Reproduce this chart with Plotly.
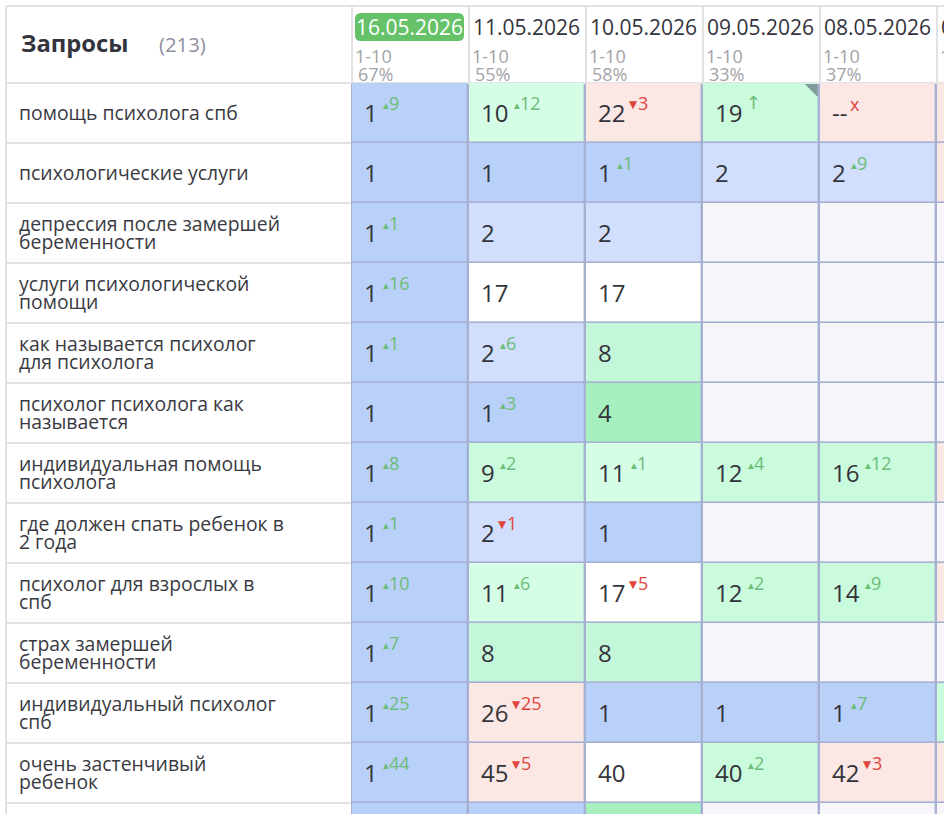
import plotly.graph_objects as go

W, H = 944, 814

title = "Запросы"
total = "(213)"
dates = ["16.05.2026", "11.05.2026", "10.05.2026", "09.05.2026", "08.05.2026", "07.05.2026"]
ranges = ["1-10", "1-10", "1-10", "1-10", "1-10", "1-10"]
shares = ["67%", "55%", "58%", "33%", "37%", ""]
queries = [
    ["помощь психолога спб"],
    ["психологические услуги"],
    ["депрессия после замершей", "беременности"],
    ["услуги психологической", "помощи"],
    ["как называется психолог", "для психолога"],
    ["психолог психолога как", "называется"],
    ["индивидуальная помощь", "психолога"],
    ["где должен спать ребенок в", "2 года"],
    ["психолог для взрослых в", "спб"],
    ["страх замершей", "беременности"],
    ["индивидуальный психолог", "спб"],
    ["очень застенчивый", "ребенок"],
]
positions = [
    ["1", "10", "22", "19", "--"],
    ["1", "1", "1", "2", "2"],
    ["1", "2", "2", "", ""],
    ["1", "17", "17", "", ""],
    ["1", "2", "8", "", ""],
    ["1", "1", "4", "", ""],
    ["1", "9", "11", "12", "16"],
    ["1", "2", "1", "", ""],
    ["1", "11", "17", "12", "14"],
    ["1", "8", "8", "", ""],
    ["1", "26", "1", "1", "1"],
    ["1", "45", "40", "40", "42"],
]
changes = [
    [9, 12, -3, "up", "x"],
    [0, 0, 1, 0, 9],
    [1, 0, 0, 0, 0],
    [16, 0, 0, 0, 0],
    [1, 6, 0, 0, 0],
    [0, 3, 0, 0, 0],
    [8, 2, 1, 4, 12],
    [1, -1, 0, 0, 0],
    [10, 6, -5, 2, 9],
    [7, 0, 0, 0, 0],
    [25, -25, 0, 0, 7],
    [44, -5, 0, 2, -3],
]
tone_colors = ["#ffffff", "#b9d0f9", "#d1dffc", "#a6f0bf", "#c4f7da", "#cafbdd", "#d6fde6", "#fbe7e3", "#f6f6fa"]
tones = [
    [1, 6, 7, 5, 7, 7],
    [1, 1, 1, 2, 2, 7],
    [1, 2, 2, 8, 8, 8],
    [1, 0, 0, 8, 8, 8],
    [1, 2, 4, 8, 8, 8],
    [1, 1, 3, 8, 8, 8],
    [1, 5, 6, 5, 5, 7],
    [1, 2, 1, 8, 8, 8],
    [1, 6, 0, 5, 5, 7],
    [1, 4, 4, 8, 8, 8],
    [1, 7, 1, 1, 1, 5],
    [1, 7, 0, 5, 7, 7],
    [1, 1, 3, 8, 8, 8],
]

TEXT, GREEN, RED, GREY, RULE = "#33333b", "#6cbd78", "#e0443e", "#a3a3a8", "#e2e2e2"
LEFT, TOP, COL, ROW = 351, 83, 117, 60

n = len(tone_colors)
scale = []
for i, c in enumerate(tone_colors):
    scale += [[i / n, c], [(i + 1) / n, c]]

fig = go.Figure(go.Heatmap(
    z=tones, colorscale=scale, zmin=0, zmax=n, showscale=False,
    xgap=2.4, ygap=1.6, hoverinfo="skip",
))


def note(text, size, color, **kw):
    kw.setdefault("xanchor", "left")
    kw.setdefault("yanchor", "middle")
    fig.add_annotation(text=text, font=dict(size=size, color=color, family=kw.pop("family", "Open Sans")),
                       showarrow=False, borderpad=0, borderwidth=0, **kw)


def head(text, px, py, size, color, **kw):
    note(text, size, color, xref="paper", yref="paper", x=px / W, y=1 - py / H, **kw)


head(f"<b>{title}</b>", 21, 43, 23.8, "#33333d")
head(total, 159, 44, 20.3, "#8f8fa0")

shapes = []
px_line = dict(type="line", xref="paper", yref="paper", line=dict(color=RULE, width=2), layer="below")
shapes.append(dict(px_line, x0=6 / W, x1=1, y0=1 - 6 / H, y1=1 - 6 / H))
shapes.append(dict(px_line, x0=6 / W, x1=6 / W, y0=0, y1=1 - 6 / H))
shapes.append(dict(px_line, x0=6 / W, x1=1, y0=1 - TOP / H, y1=1 - TOP / H))
for i in range(len(queries) + 1):
    yy = 1 - (TOP + ROW * (i + 1)) / H
    shapes.append(dict(px_line, x0=6 / W, x1=LEFT / W, y0=yy, y1=yy))
for j in range(len(dates)):
    xx = (LEFT + 1 + COL * j) / W
    shapes.append(dict(px_line, x0=xx, x1=xx, y0=1 - TOP / H, y1=1 - 6 / H))

# highlighted date badge
x0, x1, y0, y1 = 355 / W, 464 / W, 1 - 41 / H, 1 - 13 / H
rx, ry = 6 / W, 6 / H
shapes.append(dict(type="path", xref="paper", yref="paper", fillcolor="#66c268", line_width=0, layer="below",
                   path=f"M{x0 + rx},{y0} L{x1 - rx},{y0} Q{x1},{y0} {x1},{y0 + ry} L{x1},{y1 - ry} Q{x1},{y1} {x1 - rx},{y1} "
                        f"L{x0 + rx},{y1} Q{x0},{y1} {x0},{y1 - ry} L{x0},{y0 + ry} Q{x0},{y0} {x0 + rx},{y0} Z"))

for j, d in enumerate(dates):
    px = LEFT + COL * j
    head(d, px + 5, 27, 21, "#ffffff" if j == 0 else TEXT)
    head(ranges[j], px + 3.5, 56.5, 18, GREY)
    if shares[j]:
        head(shares[j], px + 7, 74, 18, GREY)

for i, lines in enumerate(queries):
    offs = [0] if len(lines) == 1 else [-9, 9]
    for line, off in zip(lines, offs):
        note(line, 19.4, "#3a3a42", xref="paper", yref="y", x=19 / W, y=i, yshift=1 - off)

for i, row in enumerate(positions):
    for j, val in enumerate(row):
        if not val:
            continue
        edge = j - 0.5
        note(val, 24, TEXT, x=edge, y=i, xshift=13, yshift=1)
        ch = changes[i][j]
        extra = 13.5 * (len(val) - 1)
        if ch == "up":
            note("↑", 18, GREEN, x=edge, y=i, xshift=32 + extra - 2, yshift=11, family="DejaVu Sans")
        elif ch == "x":
            note("x", 18, RED, x=edge, y=i, xshift=31, yshift=9)
        elif ch > 0:
            note("▲", 7.5, GREEN, x=edge, y=i, xshift=32 + extra, yshift=8, family="DejaVu Sans")
            note(str(ch), 18, GREEN, x=edge, y=i, xshift=38 + extra, yshift=10)
        elif ch < 0:
            note("▼", 10.5, RED, x=edge, y=i, xshift=30 + extra, yshift=9, family="DejaVu Sans")
            note(str(-ch), 18, RED, x=edge, y=i, xshift=39 + extra, yshift=10)

# corner flag on the 09.05.2026 / first query cell
cx = 3.5 - 1.2 / COL
cy = -0.5 + 1 / ROW
shapes.append(dict(type="path", xref="x", yref="y", fillcolor="#82999c", line_width=0,
                   path=f"M{cx - 13 / COL},{cy} L{cx},{cy} L{cx},{cy + 13 / ROW} Z"))

fig.update_layout(
    width=W, height=H, margin=dict(l=0, r=0, t=0, b=0),
    paper_bgcolor="#ffffff", plot_bgcolor="#a5b0d2", shapes=shapes,
    font=dict(family="Open Sans", color=TEXT),
    xaxis=dict(domain=[LEFT / W, 1], range=[-0.5, -0.5 + (W - LEFT) / COL], visible=False, fixedrange=True),
    yaxis=dict(domain=[0, 1 - TOP / H], range=[-0.5 + (H - TOP) / ROW, -0.5], visible=False, fixedrange=True),
)

fig.write_html("out.html", config=dict(displayModeBar=False),
               post_script="document.body.style.margin='0';document.body.style.overflow='hidden';")
